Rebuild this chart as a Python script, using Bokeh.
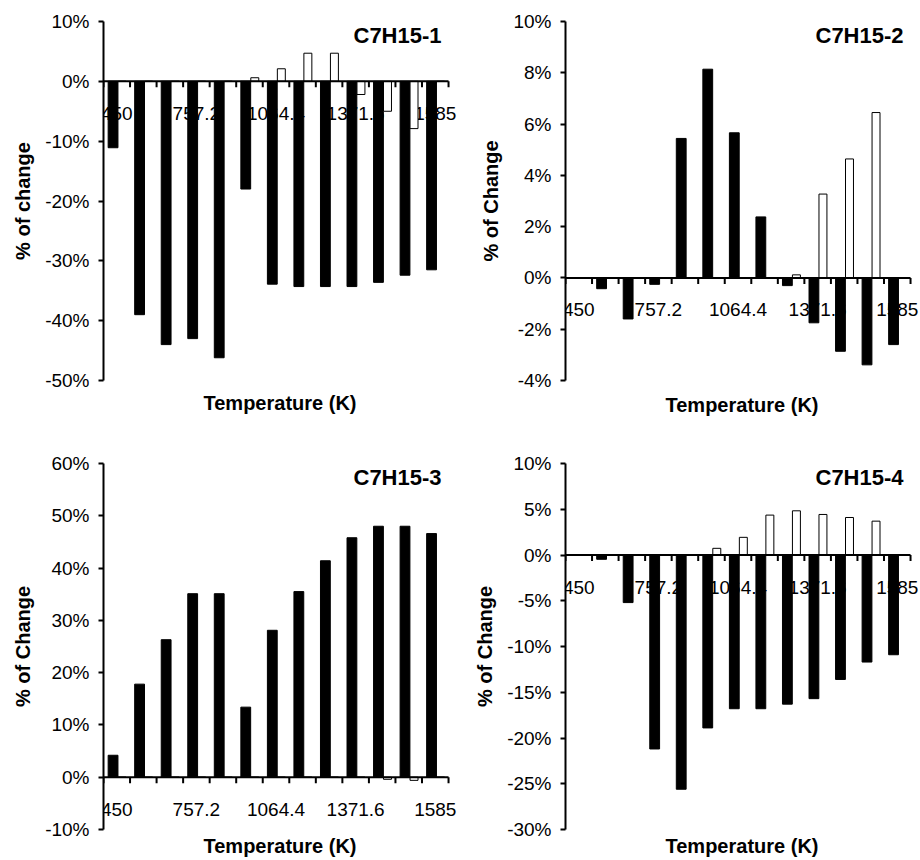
from bokeh.plotting import figure
from bokeh.layouts import row, column
from bokeh.models import (FixedTicker, PrintfTickFormatter, Title, Range1d,
                          LabelSet, ColumnDataSource)
from bokeh.core.properties import value
from bokeh.embed import file_html
from bokeh.resources import INLINE

# ---------------- data ----------------
n_cat = 13                                   # temperature categories
tick_idx = [0, 3, 6, 9, 12]                  # categories that carry a label
tick_labels = ["450", "757.2", "1064.4", "1371.6", "1585"]

c1_black = [-11.1, -39.0, -44.0, -43.0, -46.2, -18.0, -33.9, -34.3, -34.3, -34.3, -33.6, -32.4, -31.5]
c1_white = [0, 0, 0, 0, 0, 0.6, 2.1, 4.7, 4.7, -2.2, -5.0, -7.9, 0]

c2_black = [0, -0.42, -1.6, -0.25, 5.44, 8.14, 5.66, 2.38, -0.3, -1.75, -2.86, -3.39, -2.6]
c2_white = [0, 0, 0, 0, 0, 0, 0, 0, 0.12, 3.27, 4.64, 6.45, 0]

c3_black = [4.2, 17.8, 26.3, 35.1, 35.1, 13.4, 28.1, 35.5, 41.4, 45.8, 48.0, 48.0, 46.6]
c3_white = [0, 0, 0, 0, 0, 0, 0, 0, 0, 0, -0.4, -0.6, 0]

c4_black = [0, -0.47, -5.2, -21.2, -25.6, -18.9, -16.8, -16.8, -16.3, -15.7, -13.6, -11.7, -10.9]
c4_white = [0, 0, 0, 0, 0, 0.73, 1.93, 4.36, 4.83, 4.43, 4.1, 3.7, 0]

titles = ["C7H15-1", "C7H15-2", "C7H15-3", "C7H15-4"]
ylabels = ["% of change", "% of Change", "% of Change", "% of Change"]
x_title = "Temperature (K)"

FONT = "Liberation Sans"
X_PAD = 0.3   # room to the right of the last category so its label is not clipped


def panel(name, black, white, ymin, ymax, ystep, ylabel,
          left, right, top, bottom, xt_gap, fw=460, fh=430):
    p = figure(width=fw, height=fh, output_backend="svg", toolbar_location=None,
               x_range=Range1d(0, n_cat + X_PAD), y_range=Range1d(ymin, ymax),
               min_border_left=left, min_border_right=right,
               min_border_top=top, min_border_bottom=bottom)
    p.outline_line_color = None
    p.grid.visible = False
    p.background_fill_color = "white"
    p.border_fill_color = "white"
    p.xaxis.visible = False

    ya = p.yaxis[0]
    ya.ticker = FixedTicker(ticks=list(range(ymin, ymax + 1, ystep)))
    ya.formatter = PrintfTickFormatter(format="%d%%")
    ya.axis_line_width = 2
    ya.axis_line_color = "black"
    ya.major_tick_line_width = 2
    ya.major_tick_out = 5
    ya.major_tick_in = 0
    ya.minor_tick_line_color = None
    ya.major_label_text_font = FONT
    ya.major_label_text_font_size = "19px"
    ya.major_label_text_color = "black"
    ya.major_label_standoff = 9
    ya.axis_label = ylabel
    ya.axis_label_text_font = FONT
    ya.axis_label_text_font_size = "20px"
    ya.axis_label_text_font_style = "bold"
    ya.axis_label_text_color = "black"
    ya.axis_label_standoff = 8

    t = Title(text=x_title, align="center", text_font=FONT, text_font_size="20px",
              text_font_style="bold", text_color="black", standoff=xt_gap)
    p.add_layout(t, "below")

    # category labels sitting under the zero line (drawn beneath the bars)
    lab_src = ColumnDataSource(dict(x=[i + 0.5 for i in tick_idx],
                                    y=[0] * len(tick_idx), text=tick_labels))
    labels = LabelSet(x="x", y="y", text="text", source=lab_src, level="underlay",
                      text_align="center", text_baseline="middle", y_offset=-32,
                      text_font=value(FONT), text_font_size=value("19px"),
                      text_color="black")
    p.add_layout(labels)

    cats = list(range(n_cat))
    p.vbar(x=[i + 0.36 for i in cats], width=0.37, top=black, bottom=0,
           fill_color="black", line_color="black", line_width=1)
    p.vbar(x=[i + 0.70 for i in cats], width=0.30, top=white, bottom=0,
           fill_color="white", line_color="black", line_width=1)

    # horizontal category axis at zero
    frame_h = fh - top - bottom
    tl = 6 * (ymax - ymin) / frame_h
    p.segment(x0=[0], y0=[0], x1=[n_cat], y1=[0], line_color="black", line_width=2)
    bnd = list(range(n_cat + 1))
    p.segment(x0=bnd, y0=[0] * len(bnd), x1=bnd, y1=[-tl] * len(bnd),
              line_color="black", line_width=2)

    p.text(x=[n_cat], y=[ymax], text=[name], text_align="right", text_baseline="top",
           x_offset=-7, y_offset=1, text_font=value(FONT), text_font_size="22px",
           text_font_style="bold", text_color="black")
    return p


p1 = panel(titles[0], c1_black, c1_white, -50, 10, 10, ylabels[0], 103, 4, 21, 41, 18)
p2 = panel(titles[1], c2_black, c2_white, -4, 10, 2, ylabels[1], 105, 2, 20, 50, 23)
p3 = panel(titles[2], c3_black, c3_white, -10, 60, 10, ylabels[2], 103, 4, 33, 30, 7)
p4 = panel(titles[3], c4_black, c4_white, -30, 10, 5, ylabels[3], 105, 2, 33, 30, 7)

layout = column(row(p1, p2), row(p3, p4))
open("out.html", "w").write(file_html(layout, INLINE))
